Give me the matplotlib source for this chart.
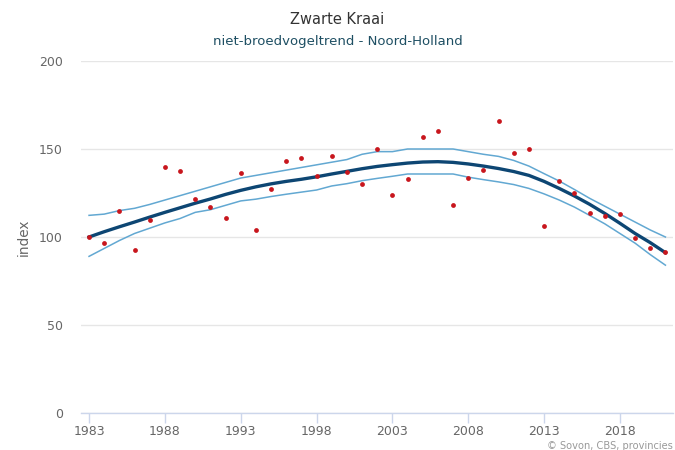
import matplotlib
matplotlib.use("Agg")
import matplotlib.pyplot as plt

years = list(range(1983, 2022))
observed = [100, 96.4, 114.9, 92.5, 109.9, 139.7, 137.5, 121.5, 116.9, 110.6,
            136.4, 104.1, 127.2, 143.0, 144.8, 134.7, 146.0, 137.0, 130.0, 149.9,
            123.6, 133.0, 156.8, 160.2, 118.2, 133.6, 138.1, 166.0, 147.8, 149.9,
            106.1, 131.8, 124.8, 113.6, 111.7, 113.0, 99.4, 93.8, 91.3]
trend = [100, 103, 105.8, 108.5, 111.3, 114, 116.6, 119.2, 121.6, 124.2,
         126.5, 128.5, 130.2, 131.6, 132.8, 134.2, 135.8, 137.3, 138.8, 140.1,
         141.1, 142, 142.6, 142.8, 142.4, 141.5, 140.3, 138.9, 137.2, 135,
         131.6, 127.6, 123.3, 118.6, 113.4, 107.8, 102, 96.8, 91.1]
upper = [112.3, 113, 115, 116.3, 118.5, 121, 123.5, 126, 128.5, 131,
         133.5, 135, 136.5, 138, 139.5, 141, 142.5, 144, 147, 148.5,
         148.5, 150, 150, 150, 150, 148.5, 147, 145.8, 143.5, 140.3,
         136, 131.8, 127, 122, 117.5, 113, 108.5, 104, 100]
lower = [89, 93.5, 98, 102, 105, 108, 110.5, 114, 115.5, 118,
         120.5, 121.5, 123, 124.3, 125.5, 126.7, 129, 130.3, 132, 133.3,
         134.5, 135.8, 135.8, 135.8, 135.8, 134, 132.6, 131.3, 129.8, 127.6,
         124.5, 121, 117, 112.3, 107.5, 102, 96.5, 90, 84]
xticks = [1983, 1988, 1993, 1998, 2003, 2008, 2013, 2018]
yticks = [0, 50, 100, 150, 200]

title = "Zwarte Kraai"
subtitle = "niet-broedvogeltrend - Noord-Holland"
ylabel = "index"
credits = "\u00a9 Sovon, CBS, provincies"

plt.rcParams['font.family'] = ['DejaVu Sans']
fig = plt.figure(figsize=(6.75, 4.5), dpi=100)
W, H = 675, 450
left, right, top, bottom = 81, 673, 61, 413
ax = fig.add_axes([left / W, 1 - bottom / H, (right - left) / W, (bottom - top) / H])

ax.plot(years, upper, color='#62a8d2', lw=1.1, zorder=2)
ax.plot(years, lower, color='#62a8d2', lw=1.1, zorder=2)
ax.plot(years, trend, color='#0d4673', lw=2.4, zorder=3)
ax.scatter(years, observed, s=12, color='#c8161d', zorder=4, linewidths=0)

ax.set_xlim(1982.47, 2021.5)
ax.set_ylim(0, 200)
ax.set_xticks(xticks)
ax.set_yticks(yticks)
ax.tick_params(axis='x', colors='#ccd6eb', length=7, width=1, labelcolor='#666666',
               labelsize=9, pad=1.5)
ax.tick_params(axis='y', length=0, labelcolor='#666666', labelsize=9, pad=13)
ax.grid(axis='y', color='#e6e6e6', lw=1)
ax.set_axisbelow(True)
for s in ['top', 'right', 'left']:
    ax.spines[s].set_visible(False)
ax.spines['bottom'].set_color('#ccd6eb')
ax.spines['bottom'].set_linewidth(1)
ax.set_ylabel(ylabel, color='#666666', fontsize=9.8)
ax.yaxis.set_label_coords((31 - left) / (right - left), 0.5)

fig.text(0.5, 1 - 20 / H, title, ha='center', va='center', color='#333333', fontsize=10.5)
fig.text(0.5, 1 - 41 / H, subtitle, ha='center', va='center', color='#1e4f63', fontsize=9.5)
fig.text(673 / W, 1 - 446 / H, credits, ha='right', va='center', color='#999999', fontsize=7.1)

fig.savefig('out.png', dpi=100)
